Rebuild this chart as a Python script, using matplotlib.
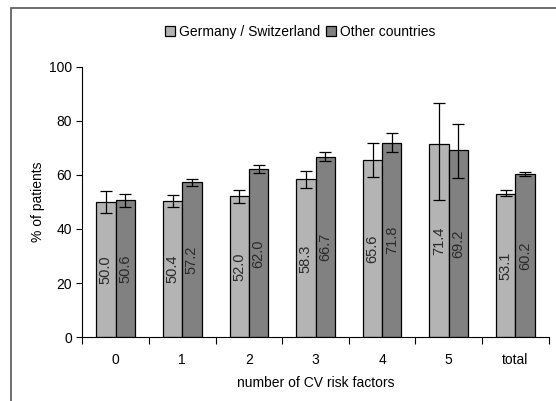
import matplotlib.pyplot as plt
import numpy as np
from matplotlib.patches import Rectangle

plt.rcParams['font.family'] = ['Liberation Sans', 'DejaVu Sans']

categories = ['0', '1', '2', '3', '4', '5', 'total']
germany = [50.0, 50.4, 52.0, 58.3, 65.6, 71.4, 53.1]
other = [50.6, 57.2, 62.0, 66.7, 71.8, 69.2, 60.2]
# lower / upper error lengths
germany_lo = [4.0, 2.4, 2.5, 3.3, 6.3, 20.7, 1.0]
germany_hi = [4.0, 2.3, 2.5, 3.3, 6.2, 15.0, 1.2]
other_lo = [2.3, 1.3, 1.5, 1.5, 3.3, 10.5, 0.8]
other_hi = [2.4, 1.3, 1.5, 1.7, 3.5, 9.4, 1.0]

light = '#b4b4b4'
dark = '#818181'

fig = plt.figure(figsize=(5.56, 4.01), dpi=100)
ax = fig.add_axes([0.148, 0.159, 0.839, 0.675])

x = np.arange(len(categories))
w = 0.29
ax.bar(x - w/2, germany, w, color=light, edgecolor='black', linewidth=0.9,
       label='Germany / Switzerland')
ax.bar(x + w/2, other, w, color=dark, edgecolor='black', linewidth=0.9,
       label='Other countries')
ax.errorbar(x - w/2, germany, yerr=[germany_lo, germany_hi], fmt='none',
            ecolor='black', elinewidth=0.9, capsize=4, capthick=0.9)
ax.errorbar(x + w/2, other, yerr=[other_lo, other_hi], fmt='none',
            ecolor='black', elinewidth=0.9, capsize=4, capthick=0.9)

# values written vertically inside the bars
for xi, g, o in zip(x, germany, other):
    ax.text(xi - w/2, g/2, f'{g:.1f}', rotation=90, ha='center', va='center',
            fontsize=10.5, color='#2a2a2a')
    ax.text(xi + w/2, o/2, f'{o:.1f}', rotation=90, ha='center', va='center',
            fontsize=10.5, color='#2a2a2a')

ax.set_xlim(-0.5, len(categories) - 0.5)
ax.set_ylim(0, 100)
ax.set_yticks([0, 20, 40, 60, 80, 100])
ax.set_xticks(np.arange(-0.5, len(categories)), labels=[])
ax.set_xticks(x, labels=categories, minor=True)
ax.tick_params(axis='x', which='minor', length=0, pad=11, labelsize=10)
ax.tick_params(axis='x', which='major', length=5, direction='out')
ax.tick_params(axis='y', length=4, direction='out', labelsize=10)

for side in ['top', 'right']:
    ax.spines[side].set_visible(False)

ax.set_xlabel('number of CV risk factors', fontsize=10, labelpad=7)
ax.set_ylabel('% of patients', fontsize=10, labelpad=3)

fig.legend(loc='center', bbox_to_anchor=(0.54, 0.92), ncol=2, frameon=False,
           handlelength=0.75, handleheight=0.75, handletextpad=0.3,
           columnspacing=0.4, fontsize=10)

# outer frame around the chart
fig.add_artist(Rectangle((11/556, -0.1), 1.2, 1 - 8/401 + 0.1,
                         transform=fig.transFigure, fill=False,
                         edgecolor='#555555', linewidth=1.2))

fig.savefig('out.png', dpi=100)
